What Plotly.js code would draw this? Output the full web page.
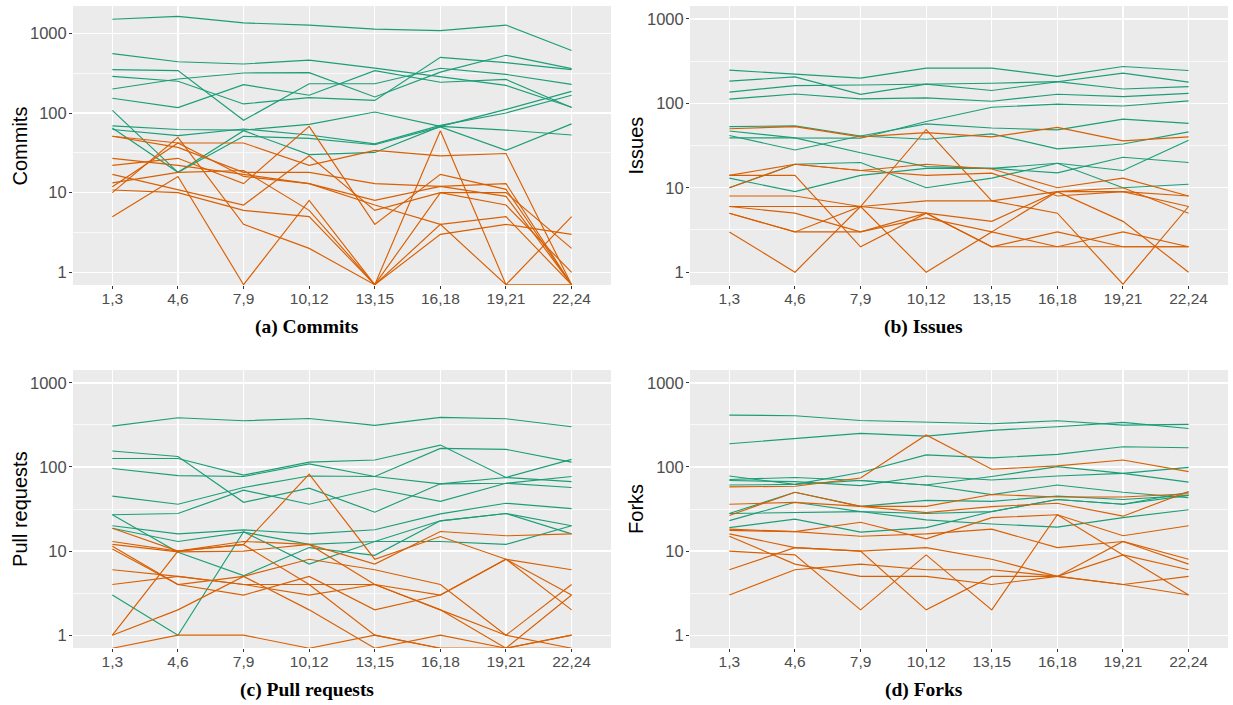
<!DOCTYPE html>
<html>
<head>
<meta charset="utf-8">
<script src="https://cdn.plot.ly/plotly-3.0.1.min.js"></script>
<style>html,body{margin:0;padding:0;background:#fff;}#chart{width:1233px;height:705px;}</style>
</head>
<body>
<div id="chart"></div>
<script>
const categories = ["1,3","4,6","7,9","10,12","13,15","16,18","19,21","22,24"];
const yTickVals = [1, 10, 100, 1000];
const yTickText = ["1", "10", "100", "1000"];
const minorVals = [3.162, 31.62, 316.2];

// (a) Commits
const commitsGreen = [
  [1500, 1630, 1350, 1270, 1130, 1080, 1270, 610],
  [555, 440, 412, 460, 366, 286, 222, 118],
  [350, 340, 81, 233, 233, 364, 305, 229],
  [288, 250, 130, 156, 144, 500, 428, 350],
  [200, 267, 318, 321, 159, 326, 530, 360],
  [153, 117, 227, 167, 340, 243, 264, 117],
  [108, 18, 60, 30, 32, 68, 111, 187],
  [69, 62, 61, 72, 103, 68, 61, 53],
  [65, 18, 51, 48, 40, 67, 34, 73],
  [62, 52, 63, 53, 41, 70, 100, 167]
];
const commitsOrange = [
  [51, 42, 42, 22, 34, 29, 31, 0.7],
  [51, 37, 18, 18, 13, 12, 13, 0.7],
  [27, 22, 17, 13, 8, 12, 9, 0.7],
  [22, 27, 13, 68, 4, 17, 11, 0.7],
  [17, 11, 7, 29, 6, 10, 10, 2],
  [13.3, 18, 19, 6, 0.7, 60, 0.7, 5],
  [11.9, 42, 16, 13, 7, 4, 5, 0.7],
  [10.8, 10, 6, 5, 0.7, 3, 4, 3],
  [10, 49.5, 4, 2, 0.7, 10, 7, 1],
  [5, 16, 0.7, 8, 0.7, 4, 0.7, 0.7]
];

// (b) Issues
const issuesGreen = [
  [247, 221, 199, 261, 261, 209, 273, 245],
  [183, 206, 128, 169, 142, 181, 228, 178],
  [136, 162, 165, 169, 173, 181, 148, 158],
  [112, 129, 113, 116, 106, 128, 120, 131],
  [53, 54, 41, 57, 51, 48.5, 65, 58],
  [47, 39, 38.6, 61, 90, 98, 93, 107],
  [41.6, 28, 41, 37.6, 43.5, 28.9, 33, 46],
  [39, 39, 26, 17.8, 17, 15, 23, 19.9],
  [13, 9, 14, 17, 17, 19.5, 16, 36.6],
  [10, 19, 19.9, 10, 13, 19.5, 10, 11]
];
const issuesOrange = [
  [50, 53, 40, 45, 40, 52, 36, 40],
  [14, 14, 2, 5, 2, 2, 2, 2],
  [14, 19, 16, 19, 16.7, 10, 13, 8],
  [10, 19, 16, 14, 14.9, 8, 9, 8],
  [8, 8, 6, 5, 4, 9, 4, 1],
  [6, 6, 6, 7, 7, 5, 0.72, 6],
  [6, 5, 3, 4.4, 3, 9, 10, 5],
  [5, 3, 3, 5, 2, 3, 2, 2],
  [5, 3, 6, 1, 3, 2, 3, 2],
  [3, 1, 6, 49, 7, 9, 9, 6]
];

// (c) Pull requests
const pullsGreen = [
  [306, 385, 354, 377, 312, 388, 374, 301],
  [155, 133, 38, 56, 29, 63, 75, 67],
  [126, 126, 80, 114, 121, 182, 75, 123],
  [96, 79, 77, 109, 77, 166, 162, 114],
  [45, 36, 57, 78, 77, 63, 64, 77],
  [27, 28, 53, 36, 55, 39, 64, 57],
  [27, 9.7, 5.1, 11, 8.9, 22.9, 28, 16],
  [20, 16, 17.9, 16, 17.9, 27.7, 37, 32],
  [18.7, 13, 16.8, 12, 13, 22.9, 28, 20],
  [3, 1, 17, 7, 13, 13, 12, 20]
];
const pullsOrange = [
  [18.7, 10, 13, 12, 7, 17.1, 15.2, 16],
  [13, 10, 12, 82, 8, 14.9, 8, 6],
  [12, 9.8, 10, 12, 4, 3, 8, 3],
  [11.4, 4, 5, 8, 6, 4, 1, 4],
  [10.6, 4, 3, 5, 2, 3, 8, 2],
  [6, 5, 4, 3, 4, 2, 0.7, 3],
  [4, 5, 4, 4, 4, 2, 1, 0.7],
  [1, 2, 5, 2, 0.7, 1, 0.7, 1],
  [1, 10, 11.9, 4, 1, 0.7, 0.7, 0.7],
  [0.7, 1, 1, 0.7, 1, 0.7, 0.7, 1]
];

// (d) Forks
const forksGreen = [
  [414, 406, 357, 342, 326, 354, 315, 321],
  [189, 219, 251, 233, 272, 301, 339, 287],
  [78, 62, 86, 139, 128, 141, 174, 169],
  [71, 75, 69, 61, 77, 101, 84, 66],
  [69, 67, 60, 78, 70, 78, 84, 99],
  [61, 62, 69, 61, 47, 61, 50, 43],
  [28, 50, 34, 40, 39, 45, 41, 46],
  [23, 38, 29.5, 28, 29.5, 41, 36, 50],
  [28, 29, 29.5, 23.5, 21, 19.3, 25, 31],
  [19, 24, 16.8, 19, 29.5, 41, 36, 46]
];
const forksOrange = [
  [58, 59, 74, 240, 94, 103, 121, 88],
  [36, 38, 34, 34, 47, 44, 44, 48],
  [26.5, 50, 34, 28.7, 33.8, 37, 26, 51],
  [18.2, 17, 22, 14, 25, 27, 15.2, 20],
  [17.6, 17, 15, 16, 18.2, 11, 13, 7],
  [16, 11, 10, 11, 8, 5, 4, 3],
  [15, 7, 5, 5, 4, 5, 9, 6],
  [10, 9, 2, 9, 2, 27, 9, 3],
  [6, 11, 10, 2, 5, 5, 13, 8],
  [3, 6, 7, 6, 6, 5, 4, 5]
];

const GREEN = "#1B9E77";
const ORANGE = "#D95F02";

const panels = [
  {green: commitsGreen, orange: commitsOrange, title: "Commits", caption: "(a) Commits",
   xd: [0.0592, 0.4955], yd: [0.5957, 0.9915], yr: [-0.159, 3.343], cx: 0.249, cy: 0.536, tx: 0.0162},
  {green: issuesGreen, orange: issuesOrange, title: "Issues", caption: "(b) Issues",
   xd: [0.5596, 0.9959], yd: [0.5957, 0.9915], yr: [-0.152, 3.153], cx: 0.749, cy: 0.536, tx: 0.5158},
  {green: pullsGreen, orange: pullsOrange, title: "Pull requests", caption: "(c) Pull requests",
   xd: [0.0592, 0.4955], yd: [0.0809, 0.4752], yr: [-0.152, 3.153], cx: 0.249, cy: 0.021, tx: 0.0162},
  {green: forksGreen, orange: forksOrange, title: "Forks", caption: "(d) Forks",
   xd: [0.5596, 0.9959], yd: [0.0809, 0.4752], yr: [-0.152, 3.153], cx: 0.749, cy: 0.021, tx: 0.5158}
];

const xTickFont = {family: "Liberation Sans, Arial, sans-serif", size: 15.5, color: "#4D4D4D"};
const yTickFont = {family: "Liberation Sans, Arial, sans-serif", size: 16.5, color: "#4D4D4D"};
const traces = [];
const layout = {
  width: 1233, height: 705, autosize: false,
  margin: {l: 0, r: 0, t: 0, b: 0},
  paper_bgcolor: "#ffffff", plot_bgcolor: "#EBEBEB",
  showlegend: false, hovermode: false,
  annotations: []
};

panels.forEach((p, i) => {
  const n = i === 0 ? "" : String(i + 1);
  const xa = "x" + n, ya = "y" + n;
  p.green.forEach(s => traces.push({x: categories, y: s, type: "scatter", mode: "lines",
    line: {color: GREEN, width: 1.15}, xaxis: xa, yaxis: ya, hoverinfo: "skip"}));
  p.orange.forEach(s => traces.push({x: categories, y: s, type: "scatter", mode: "lines",
    line: {color: ORANGE, width: 1.15}, xaxis: xa, yaxis: ya, hoverinfo: "skip"}));
  layout["xaxis" + n] = {
    domain: p.xd, anchor: ya, type: "category", range: [-0.6, 7.6],
    showgrid: true, gridcolor: "#ffffff", gridwidth: 1.3, zeroline: false, showline: false,
    ticks: "outside", ticklen: 3, tickcolor: "#333333", tickwidth: 1,
    ticklabelstandoff: -4,
    tickfont: xTickFont, fixedrange: true
  };
  layout["yaxis" + n] = {
    domain: p.yd, anchor: xa, type: "log", range: p.yr,
    tickmode: "array", tickvals: yTickVals, ticktext: yTickText,
    showgrid: true, gridcolor: "#ffffff", gridwidth: 1.3, zeroline: false, showline: false,
    ticks: "outside", ticklen: 3, tickcolor: "#333333", tickwidth: 1,
    ticklabelstandoff: -1,
    tickfont: yTickFont, fixedrange: true,
    minor: {tickmode: "array", tickvals: minorVals, showgrid: true, gridcolor: "#ffffff", gridwidth: 0.7, ticks: ""}
  };
  layout.annotations.push({
    xref: "paper", yref: "paper", x: p.tx, y: (p.yd[0] + p.yd[1]) / 2,
    xanchor: "center", yanchor: "middle", textangle: -90, showarrow: false,
    text: p.title,
    font: {family: "Liberation Sans, Arial, sans-serif", size: 20, color: "#000000"}
  });
  layout.annotations.push({
    xref: "paper", yref: "paper", x: p.cx, y: p.cy, xanchor: "center", yanchor: "middle",
    showarrow: false, text: "<b>" + p.caption + "</b>",
    font: {family: "Liberation Serif, Times New Roman, serif", size: 19.5, color: "#000000"}
  });
});

Plotly.newPlot("chart", traces, layout, {staticPlot: true, displayModeBar: false});
</script>
</body>
</html>
